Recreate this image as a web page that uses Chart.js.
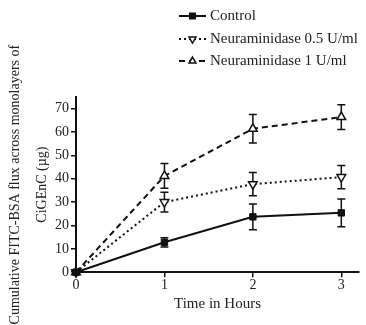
<!DOCTYPE html>
<html><head><meta charset="utf-8">
<script src="https://cdn.jsdelivr.net/npm/chart.js@4/dist/chart.umd.min.js"></script>
<style>html,body{margin:0;padding:0;background:#fff}</style>
</head><body>
<canvas id="c" width="366" height="325"></canvas>
<script>
const hours = [0, 1, 2, 3];
const xTickLabels = ['0', '1', '2', '3'];
const control = [0, 12.8, 23.7, 25.4];
const controlErr = [0, 2.0, 5.5, 5.9];
const neu05 = [0, 30.0, 37.7, 40.7];
const neu05Err = [0, 4.2, 5.0, 5.0];
const neu1 = [0, 41.2, 61.4, 66.4];
const neu1Err = [0, 5.3, 6.1, 5.3];
const seriesNames = ['Control', 'Neuraminidase 0.5 U/ml', 'Neuraminidase 1 U/ml'];

const FONT = '"Liberation Serif", "DejaVu Serif", serif';
const pts = (ys) => hours.map((h, i) => ({x: h, y: ys[i]}));

const errorBars = {
  id: 'errorBars',
  beforeDatasetsDraw(chart) {
    const ctx = chart.ctx, ys = chart.scales.y;
    ctx.save();
    ctx.strokeStyle = '#111';
    ctx.lineWidth = 1.5;
    chart.data.datasets.forEach((ds, di) => {
      const meta = chart.getDatasetMeta(di);
      ds.errors.forEach((e, i) => {
        if (!e) return;
        const el = meta.data[i];
        const x = el.x, v = ds.data[i].y;
        const t = ys.getPixelForValue(v + e), b = ys.getPixelForValue(v - e);
        ctx.beginPath();
        ctx.moveTo(x, t); ctx.lineTo(x, b);
        ctx.moveTo(x - 4, t); ctx.lineTo(x + 4, t);
        ctx.moveTo(x - 4, b); ctx.lineTo(x + 4, b);
        ctx.stroke();
      });
    });
    ctx.restore();
  }
};

const customLegend = {
  id: 'customLegend',
  afterDraw(chart) {
    const ctx = chart.ctx;
    const rows = [16, 39, 61];
    ctx.save();
    chart.data.datasets.forEach((ds, i) => {
      const y = rows[i];
      ctx.strokeStyle = '#111';
      ctx.lineWidth = 2;
      ctx.setLineDash(ds.borderDash || []);
      ctx.beginPath();
      ctx.moveTo(179, y); ctx.lineTo(206, y);
      ctx.stroke();
      ctx.setLineDash([]);
      ctx.fillStyle = ds.pointBackgroundColor;
      ctx.strokeStyle = '#111';
      ctx.lineWidth = 1.5;
      Chart.helpers.drawPoint(ctx, {pointStyle: ds.pointStyle, radius: 4, rotation: ds.pointRotation || 0, borderWidth: 1.5}, 192.5, y);
      ctx.fillStyle = '#222';
      ctx.font = '15px ' + FONT;
      ctx.textBaseline = 'middle';
      ctx.textAlign = 'left';
      ctx.fillText(seriesNames[i], 210, y);
    });
    ctx.restore();
  }
};

new Chart(document.getElementById('c'), {
  type: 'line',
  data: {
    datasets: [
      {label: seriesNames[0], data: pts(control), errors: controlErr, borderColor: '#111', borderWidth: 2,
       pointStyle: 'rect', pointRadius: 4.5, pointBackgroundColor: '#111', pointBorderColor: '#111', pointBorderWidth: 1},
      {label: seriesNames[1], data: pts(neu05), errors: neu05Err, borderColor: '#111', borderWidth: 2, borderDash: [2, 3],
       pointStyle: 'triangle', pointRotation: 180, pointRadius: 5, pointBackgroundColor: '#fff', pointBorderColor: '#111', pointBorderWidth: 1.5},
      {label: seriesNames[2], data: pts(neu1), errors: neu1Err, borderColor: '#111', borderWidth: 2, borderDash: [6, 4],
       pointStyle: 'triangle', pointRadius: 5, pointBackgroundColor: '#fff', pointBorderColor: '#111', pointBorderWidth: 1.5}
    ]
  },
  options: {
    responsive: false,
    animation: false,
    clip: false,
    layout: {padding: {top: 97, right: 7, left: 0, bottom: 12}},
    plugins: {legend: {display: false}, tooltip: {enabled: false}},
    scales: {
      x: {
        type: 'linear', min: 0, max: 3.2,
        border: {color: '#111', width: 2},
        grid: {display: true, drawOnChartArea: false, drawTicks: true, tickLength: 5, color: '#111', lineWidth: 1.5},
        ticks: {stepSize: 1, includeBounds: false, color: '#222', font: {family: FONT, size: 14}, padding: 0,
                callback: (v) => xTickLabels[hours.indexOf(v)] ?? ''},
        title: {display: true, text: 'Time in Hours', color: '#222', font: {family: FONT, size: 15}, padding: {top: 1, bottom: 0}}
      },
      y: {
        min: 0, max: 75,
        border: {color: '#111', width: 2},
        grid: {display: true, drawOnChartArea: false, drawTicks: true, tickLength: 5, color: '#111', lineWidth: 1.5},
        ticks: {stepSize: 10, includeBounds: false, color: '#222', font: {family: FONT, size: 14}, padding: 2},
        title: {display: true, text: ['Cumulative FITC-BSA flux across monolayers of', 'CiGEnC (\u00b5g)'],
                color: '#222', font: {family: FONT, size: 14, lineHeight: 1.93}, padding: {top: 2, bottom: 0}},
        afterFit: (s) => { s.width = 76; }
      }
    }
  },
  plugins: [errorBars, customLegend]
});
</script>
</body></html>
